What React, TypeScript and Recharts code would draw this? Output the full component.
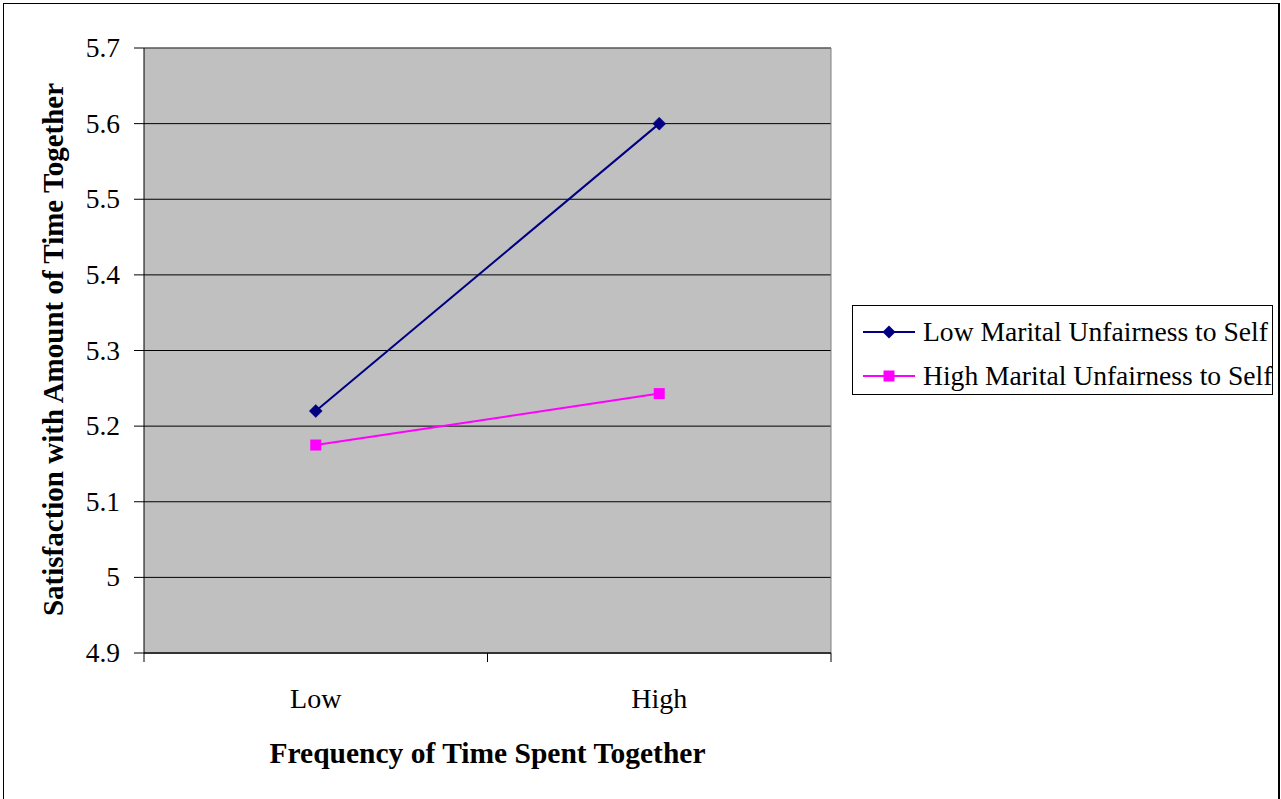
import React from 'react';
import {
  LineChart,
  Line,
  XAxis,
  YAxis,
  CartesianGrid,
  ReferenceLine,
} from 'recharts';

// ---- data ----
const categories: string[] = ['Low', 'High'];
const lowUnfairnessToSelf: number[] = [5.22, 5.6];
const highUnfairnessToSelf: number[] = [5.175, 5.243];
const yTicks: number[] = [4.9, 5.0, 5.1, 5.2, 5.3, 5.4, 5.5, 5.6, 5.7];
const yTickLabels: string[] = ['4.9', '5', '5.1', '5.2', '5.3', '5.4', '5.5', '5.6', '5.7'];
const seriesNames: string[] = ['Low Marital Unfairness to Self', 'High Marital Unfairness to Self'];
const xTitle = 'Frequency of Time Spent Together';
const yTitle = 'Satisfaction with Amount of Time Together';

const data = categories.map((c, i) => ({
  x: i + 0.5,
  name: c,
  low: lowUnfairnessToSelf[i],
  high: highUnfairnessToSelf[i],
}));
// boundary ticks between categories, plus category centres
const xTicks: number[] = [];
for (let i = 0; i <= categories.length; i++) {
  xTicks.push(i);
  if (i < categories.length) xTicks.push(i + 0.5);
}

const FONT = '"Liberation Serif", "Times New Roman", serif';
const NAVY = '#000080';
const MAGENTA = '#FF00FF';
const seriesColors = [NAVY, MAGENTA];

const XTick = (props: any) => {
  const { x, y, payload } = props;
  const v = payload.value as number;
  if (Number.isInteger(v)) {
    return <line x1={x} x2={x} y1={y} y2={y + 9} stroke="#000" strokeWidth={1} />;
  }
  return (
    <text x={x} y={y + 55} textAnchor="middle" fontSize={28} fontFamily={FONT} fill="#000">
      {categories[Math.floor(v)]}
    </text>
  );
};

const YTick = (props: any) => {
  const { x, y, payload } = props;
  const idx = yTicks.findIndex((t) => Math.abs(t - payload.value) < 1e-9);
  return (
    <text x={x} y={y + 9} textAnchor="end" fontSize={27.5} fontFamily={FONT} fill="#000">
      {idx >= 0 ? yTickLabels[idx] : payload.value}
    </text>
  );
};

const Diamond = (props: any) => {
  const { cx, cy, fill } = props;
  if (cx == null || cy == null) return null;
  const r = 6.5;
  return (
    <polygon
      points={`${cx},${cy - r} ${cx + r},${cy} ${cx},${cy + r} ${cx - r},${cy}`}
      fill={fill}
      stroke={fill}
      strokeWidth={0.5}
    />
  );
};

const Square = (props: any) => {
  const { cx, cy, fill } = props;
  if (cx == null || cy == null) return null;
  const s = 11;
  return <rect x={cx - s / 2} y={cy - s / 2} width={s} height={s} fill={fill} />;
};

const ChartLegend = () => (
  <div
    style={{
      position: 'absolute',
      left: 852,
      top: 305,
      border: '1px solid #000',
      width: 421,
      height: 90,
      boxSizing: 'border-box',
      background: '#fff',
      paddingTop: 6,
    }}
  >
    {seriesNames.map((name, i) => (
      <div
        key={i}
        style={{ display: 'flex', alignItems: 'center', height: 40, marginBottom: i === 0 ? 4 : 0 }}
      >
        <svg width={70} height={20} style={{ flex: 'none' }}>
          <line x1={10} x2={62} y1={10} y2={10} stroke={seriesColors[i]} strokeWidth={2} />
          {i === 0 ? (
            <polygon points="36,3.5 42.5,10 36,16.5 29.5,10" fill={seriesColors[i]} />
          ) : (
            <rect x={30.5} y={4.5} width={11} height={11} fill={seriesColors[i]} />
          )}
        </svg>
        <span
          style={{
            fontFamily: FONT,
            fontSize: 27.6,
            color: '#000',
            whiteSpace: 'nowrap',
            lineHeight: '40px',
          }}
        >
          {name}
        </span>
      </div>
    ))}
  </div>
);

export default function App() {
  return (
    <div
      style={{
        position: 'absolute',
        left: 0,
        top: 0,
        width: 1281,
        height: 799,
        overflow: 'hidden',
        background: '#fff',
      }}
    >
      <div
        style={{
          position: 'absolute',
          left: 3,
          top: 3,
          width: 1277,
          height: 820,
          borderLeft: '1px solid #000',
          borderTop: '1px solid #000',
          borderRight: '2px solid #000',
          boxSizing: 'border-box',
        }}
      />
      <div style={{ position: 'absolute', left: 0, top: 0 }}>
        <LineChart
          width={1281}
          height={799}
          data={data}
          margin={{ top: 48, right: 450, bottom: 145, left: 0 }}
        >
          <CartesianGrid horizontal vertical={false} stroke="#000" fill="#C0C0C0" fillOpacity={1} />
          <ReferenceLine y={5.7} stroke="#808080" />
          <ReferenceLine x={2} stroke="#808080" />
          <XAxis
            dataKey="x"
            type="number"
            domain={[0, categories.length]}
            ticks={xTicks}
            interval={0}
            height={1}
            tickSize={0}
            tickMargin={0}
            tickLine={false}
            axisLine={{ stroke: '#333', strokeWidth: 2 }}
            tick={<XTick />}
            label={{
              content: (lp: any) => {
                const vb = lp.viewBox || {};
                return (
                  <text
                    x={vb.x + vb.width / 2}
                    y={vb.y + 110}
                    textAnchor="middle"
                    fontSize={29.5}
                    fontWeight="bold"
                    fontFamily={FONT}
                    fill="#000"
                  >
                    {xTitle}
                  </text>
                );
              },
            }}
          />
          <YAxis
            type="number"
            domain={[4.9, 5.7]}
            ticks={yTicks}
            interval={0}
            width={144}
            tickSize={10}
            tickMargin={14}
            tickLine={{ stroke: '#000' }}
            axisLine={{ stroke: '#000' }}
            tick={<YTick />}
            label={{
              content: (lp: any) => {
                const vb = lp.viewBox || {};
                const cx = 63;
                const cy = vb.y + vb.height / 2 - 1;
                return (
                  <text
                    x={cx}
                    y={cy}
                    transform={`rotate(-90, ${cx}, ${cy})`}
                    textAnchor="middle"
                    fontSize={29}
                    fontWeight="bold"
                    fontFamily={FONT}
                    fill="#000"
                  >
                    {yTitle}
                  </text>
                );
              },
            }}
          />
          <Line
            type="linear"
            dataKey="low"
            name={seriesNames[0]}
            stroke={NAVY}
            strokeWidth={2}
            fill={NAVY}
            dot={<Diamond />}
            activeDot={false}
            isAnimationActive={false}
          />
          <Line
            type="linear"
            dataKey="high"
            name={seriesNames[1]}
            stroke={MAGENTA}
            strokeWidth={2}
            fill={MAGENTA}
            dot={<Square />}
            activeDot={false}
            isAnimationActive={false}
          />
        </LineChart>
      </div>
      <ChartLegend />
    </div>
  );
}
